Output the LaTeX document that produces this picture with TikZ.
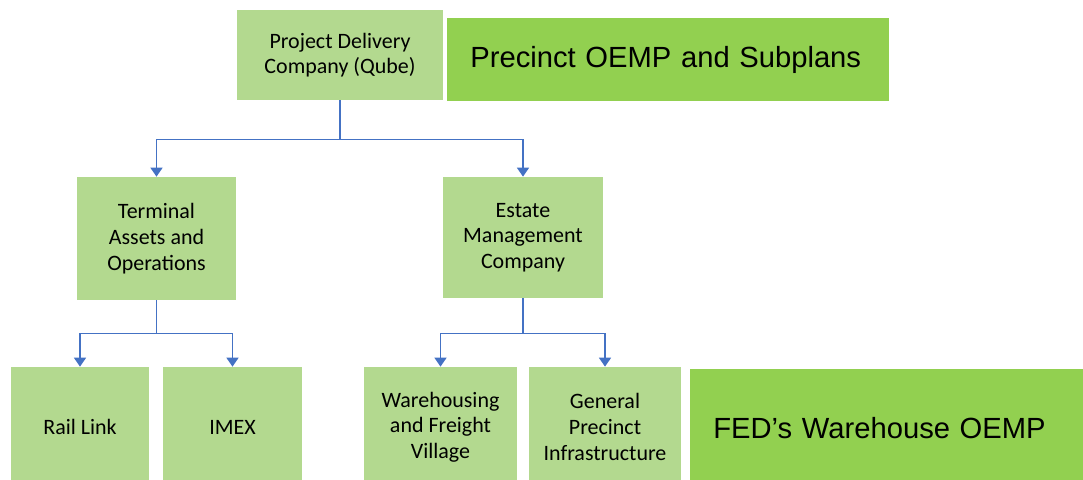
\documentclass[tikz,border=0pt]{standalone}
\usepackage{fontspec}
\setmainfont{Carlito}
\newfontfamily\planfont{Liberation Sans}
\usetikzlibrary{arrows.meta}
\definecolor{boxgreen}{HTML}{B3D98F}
\definecolor{plangreen}{HTML}{92D050}
\definecolor{linkblue}{HTML}{4472C4}

\begin{document}
\begin{tikzpicture}[
    unit/.style={fill=boxgreen,align=center,inner sep=0pt,
        font=\fontsize{12.5}{14.6}\selectfont},
    plan/.style={fill=plangreen,anchor=west,inner xsep=0.46cm,inner ysep=0pt,
        align=left,font=\planfont\fontsize{16.6}{19}\selectfont},
    link/.style={linkblue,line width=0.9pt,-{Triangle[length=1.8mm,width=2.4mm]}}
]
    \useasboundingbox (0,0) rectangle (21.66,-9.58);
    \clip (0,0) rectangle (21.66,-9.58);
    %% top level
    \node[unit,minimum width=4.12cm,minimum height=1.8cm] (qube) at (6.80,-1.10) {Project Delivery\\Company (Qube)};
    \node[plan,text width=7.92cm,minimum height=1.66cm] (precinct) at (8.94,-1.19) {Precinct OEMP and Subplans};
    %% second level
    \node[unit,minimum width=3.18cm,minimum height=2.46cm] (terminal) at (3.13,-4.77) {Terminal\\Assets and\\Operations};
    \node[unit,minimum width=3.20cm,minimum height=2.42cm] (estate) at (10.46,-4.75) {Estate\\Management\\Company};
    %% third level
    \node[unit,minimum width=2.76cm,minimum height=2.40cm] (rail) at (1.60,-8.54) {Rail Link};
    \node[unit,minimum width=2.78cm,minimum height=2.40cm] (imex) at (4.65,-8.54) {IMEX};
    \node[unit,minimum width=3.06cm,minimum height=2.40cm] (freight) at (8.81,-8.54) {Warehousing\\and Freight\\Village};
    \node[unit,minimum width=3.04cm,minimum height=2.40cm] (general) at (12.10,-8.54) {General\\Precinct\\Infrastructure};
    \node[plan,text width=6.94cm,minimum height=2.36cm] (feds) at (13.80,-8.56) {FED’s Warehouse OEMP};
    %% connectors
    \draw[link] (qube.south) -- ++(0,-0.78) -| (terminal.north);
    \draw[link] (qube.south) -- ++(0,-0.78) -| (estate.north);
    \draw[link] (terminal.south) -- ++(0,-0.66) -| (rail.north);
    \draw[link] (terminal.south) -- ++(0,-0.66) -| (imex.north);
    \draw[link] (estate.south) -- ++(0,-0.70) -| (freight.north);
    \draw[link] (estate.south) -- ++(0,-0.70) -| (general.north);
\end{tikzpicture}
\end{document}
